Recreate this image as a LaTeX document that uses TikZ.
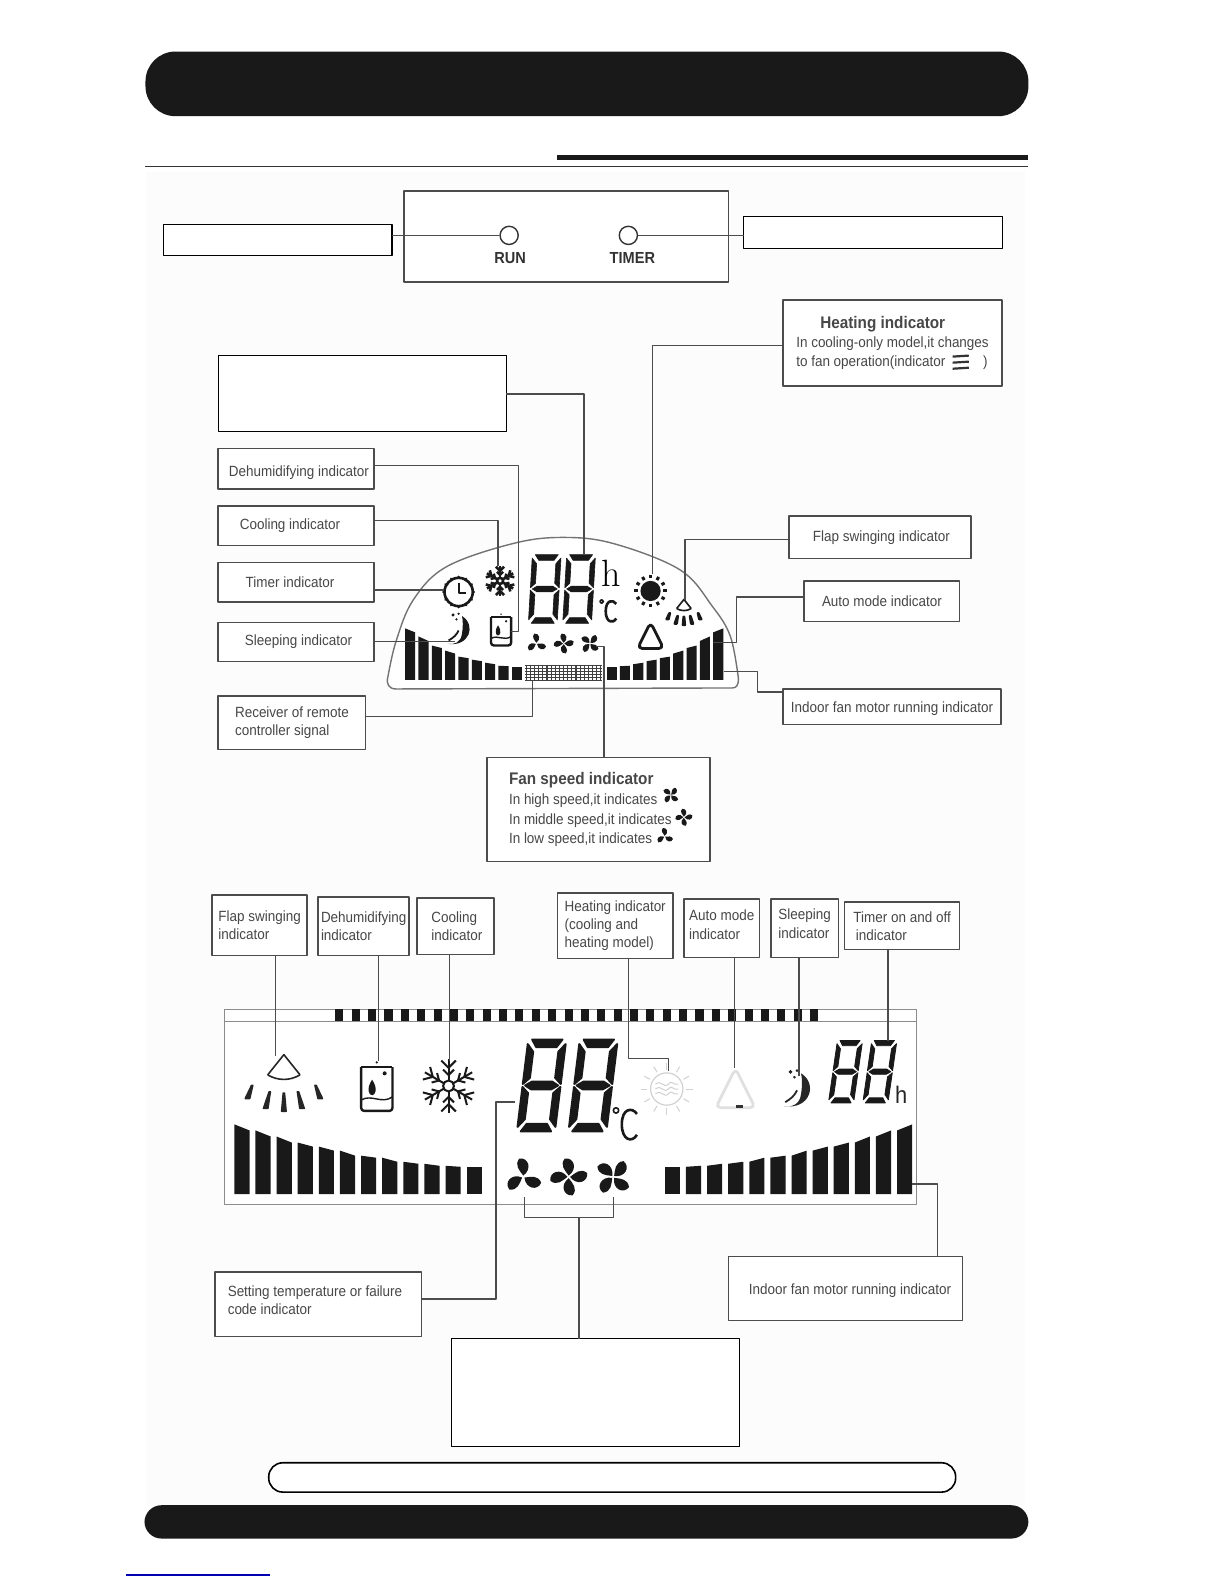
\documentclass[tikz,border=0pt]{standalone}
\usepackage{fontspec}
\setmainfont[FakeStretch=0.91]{Liberation Sans}
\usetikzlibrary{calc}

\def\unitpx{0.505pt}

\tikzset{
  pics/digit/.style={code={
    \filldraw (3,0) -- (27,0) -- (23,5) -- (7,5) -- cycle;
    \filldraw (0,3) -- (5,8) -- (5,25) -- (0,29) -- cycle;
    \filldraw (30,3) -- (25,8) -- (25,25) -- (30,29) -- cycle;
    \filldraw (2,30) -- (7,27.5) -- (23,27.5) -- (28,30) -- (23,32.5) -- (7,32.5) -- cycle;
    \filldraw (0,31) -- (5,35) -- (5,52) -- (0,57) -- cycle;
    \filldraw (30,31) -- (25,35) -- (25,52) -- (30,57) -- cycle;
    \filldraw (3,60) -- (7,55) -- (23,55) -- (27,60) -- cycle;
  }},
  pics/fan/.style={code={
    \foreach \a in {#1}
      \fill[rotate=\a] (0,-1) .. controls (-3,-5) and (-7,-9) .. (-3,-14)
        .. controls (4,-15) and (7,-6) .. (0,-1) -- cycle;
  }},
  pics/snowflake/.style={code={
    \foreach \a in {0,60,...,300} {
      \draw[rotate=\a] (0,-3) -- (0,-15);
      \draw[rotate=\a] (-4,-14) -- (0,-10) -- (4,-14);
      \draw[rotate=\a] (-3,-9) -- (0,-6) -- (3,-9);
    }
    \draw (0,0) circle (3);
  }},
  pics/sunicon/.style={code={
    \fill (0,0) circle (10);
    \foreach \a in {0,30,...,330}
      \draw[rotate=\a, line width=1.5pt] (0,-12.5) -- (0,-16);
  }},
  pics/sunfaint/.style={code={
    \draw[line width=.6pt] (0,0) circle (10);
    \foreach \y in {-3,0,3}
      \draw[line width=.5pt] (-7,\y) .. controls (-3,\y-3) and (-2,\y+3) .. (1,\y) .. controls (3,\y-3) and (4,\y+1) .. (7,\y);
    \foreach \a in {0,30,...,330}
      \draw[rotate=\a, line width=.5pt] (0,-12) -- (0,-16);
  }},
  pics/clockicon/.style={code={
    \draw[line width=1.3pt] (0,0) circle (14);
    \draw[line width=1.1pt] (0,-9) -- (0,1) -- (7,1);
    \foreach \a in {0,30,...,330}
      \fill[rotate=\a] (0,-15) circle (1.3);
  }},
  pics/flapicon/.style={code={
    \draw[line width=.8pt] (-8,-4) -- (0,-14) -- (8,-4);
    \draw[line width=.8pt] (-8,-4) .. controls (-3,-1) and (3,-1) .. (8,-4);
    \foreach \a/\b/\c/\d in {-15.7/1.2/-18/7.7, -7/4.4/-9/12.6, 0/5/0/14, 7/4.4/9/12.6, 15.7/1.2/18/7.7}
      \filldraw (\a-.3,\b) -- (\a+.3,\b) -- (\c+1.1,\d) -- (\c-1.1,\d) -- cycle;
  }},
  pics/cupicon/.style={code={
    \draw[line width=1.2pt, rounded corners=1.5] (-10,-14) -- (-10,14) -- (10,14) -- (10,-14);
    \draw[line width=1.2pt] (-10,-14) -- (10,-14);
    \draw[line width=.7pt] (-10,7) .. controls (-3,3) and (3,10) .. (10,5);
    \fill (-3,-6) .. controls (-7,0) and (-5,4) .. (-3,4) .. controls (-1,4) and (1,0) .. (-3,-6) -- cycle;
    \fill (5,-10) circle (1.3);
    \fill (0,-17) circle (.8);
  }},
  pics/moonicon/.style={code={
    \fill (3,-12) .. controls (16,-4) and (10,16) .. (-10,13)
      .. controls (-4,14) and (2,12) .. (3,4) .. controls (4,-2) and (4,-8) .. (3,-12) -- cycle;
    \draw[line width=.9pt] (-9,10) .. controls (-4,7) and (-2,5) .. (0,1);
    \fill (-5,-13) circle (1.5);
    \fill (0,-14) circle (1.1);
    \fill (-2,-9) circle (1.1);
  }},
  pics/triicon/.style={code={
    \draw[line width=1.4pt, rounded corners=2.5] (0,-15) -- (13,11) -- (-13,11) -- cycle;
  }},
  pics/degreec/.style={code={
    \draw[line width=.8pt] (-8,-12) circle (2.3);
    \draw (10,-9) .. controls (6,-15) and (-3,-14) .. (-3,0)
      .. controls (-3,14) and (6,16) .. (10,9);
  }}
}

\begin{document}
\begin{tikzpicture}[x=\unitpx, y=-\unitpx, line join=round,
  boxline/.style={draw=black!70, line width=.75pt, fill=white, inner sep=0pt, outer sep=0pt},
  labelbox/.style={boxline, font=\fontsize{7.4}{9.1}\selectfont, text=black!72, align=left},
  blankbox/.style={draw=black, line width=.6pt, fill=white, inner sep=0pt, outer sep=0pt},
  lead/.style={draw=black!70, line width=.65pt},
  lcdframe/.style={draw=black!45, line width=.5pt},
  boxsize/.style n args={2}{minimum width=#1*\unitpx, minimum height=#2*\unitpx}
]

  \useasboundingbox (0,0) rectangle (1212,1568);
  \fill[black!1] (145,170) rectangle (1015,1490);

  % Header and footer bars
  \node[fill=black!90, inner sep=0pt, rounded corners=15pt, boxsize={874}{64}] (headerbar) at (581,83) {};
  \node[fill=black!90, inner sep=0pt, rounded corners=8.5pt, boxsize={875}{33}] (footerbar) at (580.5,1506.5) {};
  \fill[black!90] (551,153) rectangle (1018,158);
  \draw[black!80, line width=.5pt] (144,165) -- (1018,165);
  \node[draw=black, line width=.8pt, fill=white, inner sep=0pt, rounded corners=7pt, boxsize={680}{29}] (notebar) at (606,1462.5) {};
  \draw[blue!70!black, line width=.6pt] (125,1559) -- (267,1559);

  % Indicator lamps panel
  \node[boxline, boxsize={321}{90}] (panel) at (560.5,234) {};
  \node[draw=black!80, line width=.7pt, circle, fill=white, inner sep=0pt, minimum size=18*\unitpx] (runlamp) at (504,233) {};
  \node[draw=black!80, line width=.7pt, circle, fill=white, inner sep=0pt, minimum size=18*\unitpx] (timerlamp) at (622,233) {};
  \node[font=\fontsize{8}{9}\bfseries, text=black!80] (runtext) at (505,255) {RUN};
  \node[font=\fontsize{8}{9}\bfseries, text=black!80] (timertext) at (626,255) {TIMER};
  \node[blankbox, boxsize={226}{31}] (runbox) at (275,237.5) {};
  \node[blankbox, boxsize={256}{32}] (timerbox) at (864,230) {};
  \draw[lead] (runbox.east |- runlamp) -- (runlamp);
  \draw[lead] (timerlamp) -- (timerbox.west |- timerlamp);

  % Upper display
  \draw[lcdframe, draw=black!55, line width=.7pt, fill=white]
    plot[smooth, tension=.6] coordinates {(384,670) (392,635) (409,594) (442,561) (508,538) (557,532) (607,538) (673,564) (705,600) (723,630) (731,672)}
    .. controls (731,678) and (729,681) .. (725,681)
    -- (392,682) .. controls (385,682) and (382,677) .. (384,670) -- cycle;
  \pic[black!90, line width=.3pt, yscale=68/60, xscale=.95, xslant=.07] at (527,549) {digit};
  \pic[black!90, line width=.3pt, yscale=68/60, xscale=.95, xslant=.07] at (561,549) {digit};
  \node[font=\fontsize{19}{19}\fontfamily{lmr}\selectfont, text=black] (hoursign) at (605,568) {h};
  \pic[black!90, scale=.8, line width=1.3pt] at (602,605) {degreec};
  \pic[black!90, line width=1.3pt] at (495,575) {snowflake};
  \pic[black!90] at (454,586) {clockicon};
  \pic[black!90] at (644,585) {sunicon};
  \pic[black!90, scale=.9, line width=1.2pt] at (677,606) {flapicon};
  \pic[black!90] at (496,625) {cupicon};
  \pic[black!90, scale=1.1] at (454,623) {moonicon};
  \pic[black!90] at (644,631) {triicon};
  \pic[black!90, scale=.7] at (531,637) {fan={0,120,240}};
  \pic[black!90, scale=.7] at (558,637) {fan={0,90,180,270}};
  \pic[black!90, scale=.7] at (584,637) {fan={45,135,225,315}};
  \foreach \i/\t/\n in {0/622/630,1/630/639,2/639/644,3/644/650,4/650/653,5/653/656,6/656/659,7/659/660,8/660/660} {
    \fill[black!90] ({401+\i*13.2},\t) -- ({411+\i*13.2},{(\t+\n)/2}) -- ({411+\i*13.2},673) -- ({401+\i*13.2},673) -- cycle;
    \fill[black!90] ({716+(-\i)*13.2},\t) -- ({706+(-\i)*13.2},{(\t+\n)/2}) -- ({706+(-\i)*13.2},673) -- ({716+(-\i)*13.2},673) -- cycle;
  }
  \foreach \i in {0,...,18}
    \draw[black!75, line width=.6pt] ({521+\i*4.1},658) -- ({521+\i*4.1},674);
  \foreach \i in {0,...,5}
    \draw[black!75, line width=.6pt] (520,{659+\i*2.9}) -- (596,{659+\i*2.9});

  \coordinate (coolicon) at (493,560);
  \coordinate (clocktip) at (440,584);
  \coordinate (moontip) at (450,635);
  \coordinate (cuptip) at (506,625);
  \coordinate (digittip) at (578,549);
  \coordinate (suntip) at (646,568);
  \coordinate (flaptip) at (678,594);
  \coordinate (tritip) at (706,636);
  \coordinate (bartip) at (717,665);
  \coordinate (gridtip) at (527,674);
  \coordinate (fantip) at (590,640);

  \node[labelbox, boxsize={217}{85}, font=\fontsize{7.4}{9.6}\selectfont] (heatbox) at (883.5,339.5) {\hspace*{12pt}{\fontsize{8.4}{11}\bfseries Heating indicator}\\In cooling-only model,it changes\\to fan operation(indicator \hspace{17pt})};
  \draw[black!80, line width=1.1pt] (943,353) -- (959,352);
  \draw[black!80, line width=1.1pt] (943,359) -- (959,358);
  \draw[black!80, line width=1.1pt] (943,365) -- (959,364);
  \node[blankbox, boxsize={285}{75}] (digitbox) at (358.5,389.5) {};
  \node[labelbox, boxsize={154}{40}] (dehumbox) at (293,464) {\hspace*{3pt}\rule{0pt}{9.5pt}Dehumidifying indicator};
  \node[labelbox, boxsize={154}{39}] (coolbox) at (293,520.5) {\hspace*{-6pt}Cooling indicator};
  \node[labelbox, boxsize={154}{39}] (timerindbox) at (293,576.5) {\hspace*{-6pt}Timer indicator};
  \node[labelbox, boxsize={154}{39}] (sleepbox) at (293,635.5) {\hspace*{2.5pt}Sleeping indicator};
  \node[labelbox, boxsize={146}{53}] (receiverbox) at (289,715.5) {Receiver of remote\\controller signal};
  \node[labelbox, boxsize={180}{42}] (flapbox) at (871,532) {\hspace*{1.5pt}Flap swinging indicator};
  \node[labelbox, boxsize={154}{40}] (autobox) at (873,595) {Auto mode indicator};
  \node[labelbox, boxsize={216}{35}] (motorbox) at (883,699.5) {\rule{0pt}{7.5pt}Indoor fan motor running indicator};
  \node[labelbox, boxsize={221}{103}, font=\fontsize{7.4}{9.9}\selectfont] (speedbox) at (592.5,801.5) {{\fontsize{8.4}{11}\bfseries Fan speed indicator}\\In high speed,it indicates\\In middle speed,it indicates\\In low speed,it indicates\hspace*{18pt}};
  \pic[black!90, scale=.6] at (664,787) {fan={45,135,225,315}};
  \pic[black!90, scale=.6] at (677,809) {fan={0,90,180,270}};
  \pic[black!90, scale=.6] at (658,828) {fan={0,120,240}};

  \draw[lead] (digitbox.east |- 0,390) -| (digittip);
  \draw[lead] (heatbox.west |- 0,342) -| (suntip);
  \draw[lead] (dehumbox.east |- 0,461) -| (513,625) -- (cuptip);
  \draw[lead] (coolbox.east |- 0,515) -| (coolicon);
  \draw[lead] (timerindbox.east |- clocktip) -- (clocktip);
  \draw[lead] (sleepbox.east |- moontip) -- (moontip);
  \draw[lead] (receiverbox.east |- 0,709) -| (gridtip);
  \draw[lead] (speedbox.north -| 598,0) |- (fantip);
  \draw[lead] (flapbox.west |- 0,534) -| (flaptip);
  \draw[lead] (autobox.west |- 0,591) -| (729,636) -- (tritip);
  \draw[lead] (motorbox.west |- 0,685) -| (750,665) -- (bartip);

  % Lower display
  \draw[lcdframe, fill=white] (222,999) rectangle (907,1192);
  \draw[lcdframe] (222,1011) -- (907,1011);
  \foreach \i in {0,...,29}
    \fill[black!90] ({332+\i*16.2},999) rectangle ({340+\i*16.2},1011);
  \pic[black!90, line width=1pt, xscale=1.25, yscale=91/60, xslant=.15] at (523,1029) {digit};
  \pic[black!90, line width=1pt, xscale=1.25, yscale=91/60, xslant=.15] at (574,1029) {digit};
  \pic[black!90, line width=.4pt, xscale=.83, yscale=1.03, xslant=.18] at (829,1030) {digit};
  \pic[black!90, line width=.4pt, xscale=.83, yscale=1.03, xslant=.18] at (863,1030) {digit};
  \pic[black!90, scale=1.15, line width=1.3pt] at (619,1113) {degreec};
  \node[font=\fontsize{12}{12}\selectfont, text=black!85] (hourlow) at (892,1084) {h};
  \pic[black!85, scale=2, line width=.8pt] at (281,1072) {flapicon};
  \pic[black!90, scale=1.55] at (373,1078) {cupicon};
  \pic[black!90, scale=1.8, line width=1pt] at (444,1075) {snowflake};
  \pic[black!18, scale=1.6] at (660,1078) {sunfaint};
  \pic[black!12, scale=1.5] at (728,1080) {triicon};
  \fill[black!80] (729,1094) rectangle (735,1097);
  \pic[black!85, scale=1.3] at (789,1078) {moonicon};
  \pic[black!90, scale=1.3] at (518,1165) {fan={0,120,240}};
  \pic[black!90, scale=1.3] at (563,1165) {fan={0,90,180,270}};
  \pic[black!90, scale=1.3] at (607,1165) {fan={45,135,225,315}};
  \foreach \i/\t/\n in {0/1113/1119,1/1119/1125,2/1125/1131,3/1131/1135,4/1135/1139,5/1139/1144,6/1144/1146,7/1146/1150,8/1150/1152,9/1152/1154,10/1154/1155,11/1155/1155} {
    \fill[black!90] ({232+\i*20.9},\t) -- ({247+\i*20.9},\n) -- ({247+\i*20.9},1182) -- ({232+\i*20.9},1182) -- cycle;
    \fill[black!90] ({903+(-\i)*20.9},\t) -- ({888+(-\i)*20.9},\n) -- ({888+(-\i)*20.9},1182) -- ({903+(-\i)*20.9},1182) -- cycle;
  }

  \coordinate (flaplow) at (273,1045);
  \coordinate (cuplow) at (375,1050);
  \coordinate (coollow) at (445,1050);
  \coordinate (sunlow) at (662,1060);
  \coordinate (trilow) at (727,1057);
  \coordinate (moonlow) at (791,1065);
  \coordinate (timelow) at (879,1030);
  \coordinate (tempsetlow) at (510,1091);
  \coordinate (barlow) at (903,1172);
  \coordinate (fanleft) at (519,1185);
  \coordinate (fanright) at (607,1185);
  \coordinate (fanjoin) at (573,1205);

  \node[labelbox, boxsize={94}{60}] (flaplabel) at (257,916) {Flap swinging\\indicator};
  \node[labelbox, boxsize={90}{58}] (cuplabel) at (360,917) {Dehumidifying\\indicator};
  \node[labelbox, boxsize={76}{56}] (coollabel) at (451,917) {\,Cooling\\\,indicator};
  \node[labelbox, boxsize={114}{65}] (heatlabel) at (609,916.5) {Heating indicator\\(cooling and\\heating model)};
  \node[labelbox, boxsize={75}{58}] (autolabel) at (714.5,919) {Auto mode\\indicator\rule[-3.7pt]{0pt}{0pt}};
  \node[labelbox, boxsize={67}{58}] (sleeplabel) at (796.5,919) {Sleeping\\indicator\rule[-4.7pt]{0pt}{0pt}};
  \node[labelbox, boxsize={114}{47}] (timelabel) at (893,916.5) {Timer on and off\\\,indicator};
  \node[labelbox, boxsize={204}{64}] (templabel) at (315,1291) {\hspace*{5.5pt}Setting temperature or failure\\\hspace*{5.5pt}code indicator\hspace*{54pt}\rule[-3.7pt]{0pt}{0pt}};
  \node[labelbox, boxsize={232}{63}] (motorlabel) at (837,1275.5) {\hspace*{4.5pt}\rule{0pt}{7.5pt}Indoor fan motor running indicator};
  \node[blankbox, boxsize={285}{107}] (fanlabel) at (589.5,1378.5) {};

  \draw[lead] (flaplabel.south -| flaplow) -- (flaplow);
  \draw[lead] (cuplabel.south -| cuplow) -- (cuplow);
  \draw[lead] (coollabel.south -| coollow) -- (coollow);
  \draw[lead] (heatlabel.south -| 622,0) |- (662,1048) -- (sunlow);
  \draw[lead] (autolabel.south -| trilow) -- (trilow);
  \draw[lead] (sleeplabel.south -| moonlow) -- (moonlow);
  \draw[lead] (timelabel.south -| timelow) -- (timelow);
  \draw[lead] (templabel.east |- 0,1286) -| (491,1091) -- (tempsetlow);
  \draw[lead] (motorlabel.north -| 928,0) |- (barlow);
  \draw[lead] (fanlabel.north -| fanjoin) -- (fanjoin);
  \draw[lead] (fanleft) |- (fanjoin) -| (fanright);

\end{tikzpicture}
\end{document}
